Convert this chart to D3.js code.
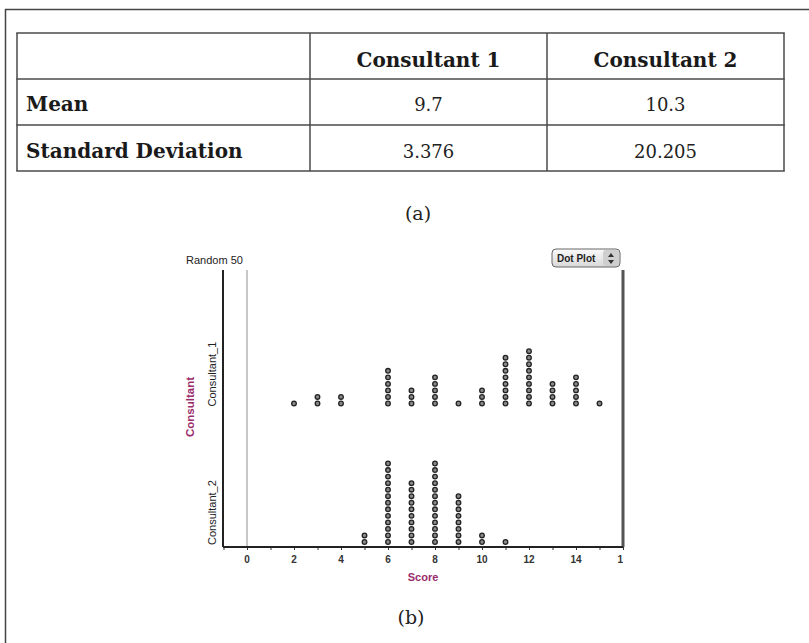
<!DOCTYPE html>
<html><head><meta charset="utf-8">
<script src="https://cdn.jsdelivr.net/npm/d3@7"></script>
<style>html,body{margin:0;padding:0;background:#fff;}svg{display:block;}</style>
</head><body>
<svg id="chart" width="809" height="643"></svg>
<script>
// ---- data ----
const tableHeaders = ["", "Consultant 1", "Consultant 2"];
const rowLabels = ["Mean", "Standard Deviation"];
const consultant1Stats = ["9.7", "3.376"];
const consultant2Stats = ["10.3", "20.205"];
const categories = ["Consultant_1", "Consultant_2"];
const c1Scores = [2, 3, 4, 6, 7, 8, 9, 10, 11, 12, 13, 14, 15];
const c1Counts = [1, 2, 2, 6, 3, 5, 1, 3, 8, 9, 4, 5, 1];
const c2Scores = [5, 6, 7, 8, 9, 10, 11];
const c2Counts = [2, 13, 10, 13, 8, 2, 1];
const tickValues = d3.range(-1, 17);
const tickLabels = [0, 2, 4, 6, 8, 10, 12, 14, 16];

const svg = d3.select("#chart");
const defs = svg.append("defs");

// outer frame (top & left visible)
svg.append("line").attr("x1", 5).attr("x2", 809).attr("y1", 9.5).attr("y2", 9.5).attr("stroke", "#444").attr("stroke-width", 1.5);
svg.append("line").attr("x1", 5.5).attr("x2", 5.5).attr("y1", 9).attr("y2", 643).attr("stroke", "#444").attr("stroke-width", 1.5);

// ---- table ----
const colX = [17, 310, 547, 784];
const rowY = [33, 79, 125, 171];
const tbl = svg.append("g");
const lc = "#4a4a4a";
rowY.forEach(y => tbl.append("line").attr("x1", colX[0] - 0.75).attr("x2", colX[3] + 0.75).attr("y1", y).attr("y2", y).attr("stroke", lc).attr("stroke-width", 1.5));
colX.forEach(x => tbl.append("line").attr("x1", x).attr("x2", x).attr("y1", rowY[0]).attr("y2", rowY[3]).attr("stroke", lc).attr("stroke-width", 1.5));
const serif = "'DejaVu Serif', 'Liberation Serif', serif";
tableHeaders.forEach((h, i) => {
  if (!h) return;
  tbl.append("text").attr("x", (colX[i] + colX[i + 1]) / 2).attr("y", 67)
    .attr("text-anchor", "middle").attr("font-family", serif).attr("font-weight", "bold")
    .attr("font-size", 20).attr("fill", "#1a1a1a").text(h);
});
const rowBase = [111, 158];
rowLabels.forEach((r, j) => {
  tbl.append("text").attr("x", 26).attr("y", rowBase[j]).attr("font-family", serif)
    .attr("font-weight", "bold").attr("font-size", 20).attr("fill", "#1a1a1a").text(r);
  [consultant1Stats, consultant2Stats].forEach((arr, k) => {
    tbl.append("text").attr("x", (colX[k + 1] + colX[k + 2]) / 2).attr("y", rowBase[j])
      .attr("text-anchor", "middle").attr("font-family", serif).attr("font-size", 18)
      .attr("fill", "#222").text(arr[j]);
  });
});
svg.append("text").attr("x", 418).attr("y", 220).attr("text-anchor", "middle")
  .attr("font-family", serif).attr("font-size", 19).attr("fill", "#222").text("(a)");
svg.append("text").attr("x", 411).attr("y", 624).attr("text-anchor", "middle")
  .attr("font-family", serif).attr("font-size", 19).attr("fill", "#222").text("(b)");

// ---- dot plot ----
const sans = "'Liberation Sans', Arial, sans-serif";
const x = d3.scaleLinear().domain([0, 16]).range([247, 623]);
const y = d3.scaleBand().domain(categories).range([270, 547]);
const plotLeft = 223, plotRight = 623, plotTop = 270, plotBottom = 547;
const dotStep = 6.54;
const purple = "#9a2b6c";

const g = svg.append("g");
defs.append("clipPath").attr("id", "axclip")
  .append("rect").attr("x", 200).attr("y", 540).attr("width", 423).attr("height", 40);

g.append("line").attr("x1", x(0)).attr("x2", x(0)).attr("y1", plotTop).attr("y2", plotBottom)
  .attr("stroke", "#b5b5b5").attr("stroke-width", 1.5);
g.append("line").attr("x1", plotRight).attr("x2", plotRight).attr("y1", plotTop).attr("y2", plotBottom)
  .attr("stroke", "#555").attr("stroke-width", 3);

const xAxis = d3.axisBottom(x).tickValues(tickValues).tickSize(3).tickFormat("");
const ax = g.append("g").attr("transform", `translate(0,${plotBottom})`).call(xAxis);
ax.select(".domain").remove();
ax.selectAll(".tick line").attr("stroke", "#333").attr("stroke-width", 1);
const labAx = g.append("g").attr("clip-path", "url(#axclip)");
labAx.selectAll("text").data(tickLabels).join("text")
  .attr("x", d => x(d)).attr("y", 563).attr("text-anchor", "middle")
  .attr("font-family", sans).attr("font-weight", "bold").attr("font-size", 10).attr("fill", "#333")
  .text(d => d);
g.append("line").attr("x1", plotLeft).attr("x2", plotRight).attr("y1", plotBottom).attr("y2", plotBottom)
  .attr("stroke", "#222").attr("stroke-width", 2);
g.append("line").attr("x1", plotLeft).attr("x2", plotLeft).attr("y1", plotTop).attr("y2", plotBottom)
  .attr("stroke", "#222").attr("stroke-width", 2);

categories.forEach(c => {
  const yb = y(c) + y.bandwidth() - 2;
  g.append("text").attr("transform", `translate(216,${yb}) rotate(-90)`)
    .attr("font-family", sans).attr("font-size", 11).attr("fill", "#222").text(c);
});
g.append("text").attr("transform", `translate(194,${407}) rotate(-90)`).attr("text-anchor", "middle")
  .attr("font-family", sans).attr("font-weight", "bold").attr("font-size", 11.5).attr("fill", purple).text("Consultant");
g.append("text").attr("x", 423).attr("y", 581).attr("text-anchor", "middle")
  .attr("font-family", sans).attr("font-weight", "bold").attr("font-size", 11).attr("fill", purple).text("Score");
g.append("text").attr("x", 186).attr("y", 264)
  .attr("font-family", sans).attr("font-size", 11).attr("fill", "#222").text("Random 50");

const series = [[categories[0], c1Scores, c1Counts], [categories[1], c2Scores, c2Counts]];
series.forEach(([cat, scores, counts]) => {
  const pts = [];
  scores.forEach((s, i) => { for (let k = 0; k < counts[i]; k++) pts.push({ s, k }); });
  const base = y(cat) + y.bandwidth() - 5;
  g.append("g").selectAll("circle").data(pts).join("circle")
    .attr("cx", d => x(d.s)).attr("cy", d => base - d.k * dotStep)
    .attr("r", 2.3).attr("fill", "#8a8a8a").attr("stroke", "#222").attr("stroke-width", 1.3);
});

const btn = svg.append("g");
const grad = defs.append("linearGradient").attr("id", "btngrad").attr("x1", 0).attr("x2", 0).attr("y1", 0).attr("y2", 1);
grad.append("stop").attr("offset", "0%").attr("stop-color", "#fafafa");
grad.append("stop").attr("offset", "100%").attr("stop-color", "#d8d8d8");
btn.append("rect").attr("x", 552).attr("y", 249).attr("width", 68).attr("height", 18).attr("rx", 4)
  .attr("fill", "url(#btngrad)").attr("stroke", "#666").attr("stroke-width", 1);
btn.append("text").attr("x", 557).attr("y", 262).attr("font-family", sans).attr("font-weight", "bold")
  .attr("font-size", 10).attr("fill", "#222").text("Dot Plot");
btn.append("rect").attr("x", 603).attr("y", 250).attr("width", 16).attr("height", 16).attr("rx", 3)
  .attr("fill", "#cfcfcf");
btn.append("path").attr("d", "M608,257 L611,253 L614,257 Z M608,260 L611,264 L614,260 Z").attr("fill", "#333");
</script>
</body></html>
